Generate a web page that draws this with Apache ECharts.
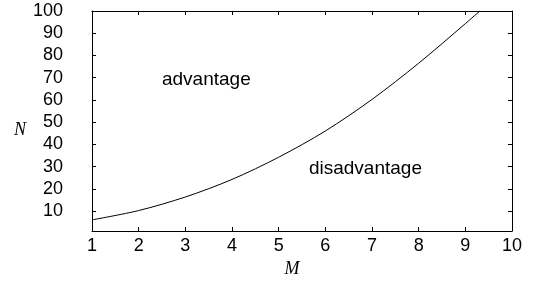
<!DOCTYPE html>
<html><head><meta charset="utf-8">
<script src="https://cdn.jsdelivr.net/npm/echarts@6/dist/echarts.min.js"></script>
<style>html,body{margin:0;padding:0;background:#fff}#c{width:533px;height:286px}</style>
</head><body><div id="c"></div>
<script>
var mValues = [1.0, 2.0, 3.0, 4.0, 5.0, 6.0, 7.0, 8.0, 9.0, 9.31];
var nValues = [6.0, 10.2, 16.3, 24.2, 34.2, 46.0, 60.2, 76.5, 94.3, 100.0];
var xTicks = [1, 2, 3, 4, 5, 6, 7, 8, 9, 10];
var yTicks = [10, 20, 30, 40, 50, 60, 70, 80, 90, 100];
var regionLabels = [
  {text: 'advantage', m: 3.45, n: 69.0},
  {text: 'disadvantage', m: 6.86, n: 29.0}
];

var chart = echarts.init(document.getElementById('c'), null, {renderer: 'canvas'});
var lineStyle = {color: '#000', width: 1};
var labFont = {color: '#000', fontFamily: 'Liberation Sans, Arial, sans-serif', fontSize: 18};
var pts = mValues.map(function (m, i) { return [m, nValues[i]]; });
chart.setOption({
  animation: false,
  grid: {left: 92, right: 21, top: 11, bottom: 55, show: false},
  graphic: [{
    type: 'text', left: 14, top: 121,
    style: {text: 'N', fill: '#000', font: 'italic 18px "Liberation Serif", "Times New Roman", serif'}
  }],
  xAxis: [{
    type: 'value', min: 1, max: 10, interval: 1, position: 'bottom',
    name: 'M', nameLocation: 'middle', nameGap: 26,
    nameTextStyle: {color: '#000', fontFamily: 'Liberation Serif, Times New Roman, serif', fontStyle: 'italic', fontSize: 18, padding: [0, 20, 0, 0]},
    axisLine: {show: true, onZero: false, lineStyle: lineStyle},
    axisTick: {show: true, inside: true, length: 4, lineStyle: lineStyle},
    axisLabel: Object.assign({margin: 6}, labFont),
    splitLine: {show: false}
  }, {
    type: 'value', min: 1, max: 10, interval: 1, position: 'top',
    axisLine: {show: true, onZero: false, lineStyle: lineStyle},
    axisTick: {show: true, inside: true, length: 4, lineStyle: lineStyle},
    axisLabel: {show: false}, splitLine: {show: false}
  }],
  yAxis: [{
    type: 'value', min: 1, max: 100, position: 'left',
    axisLine: {show: true, onZero: false, lineStyle: lineStyle},
    axisTick: {show: true, inside: true, length: 4, lineStyle: lineStyle, customValues: yTicks},
    axisLabel: Object.assign({margin: 29, customValues: yTicks}, labFont),
    splitLine: {show: false}
  }, {
    type: 'value', min: 1, max: 100, position: 'right',
    axisLine: {show: true, onZero: false, lineStyle: lineStyle},
    axisTick: {show: true, inside: true, length: 4, lineStyle: lineStyle, customValues: yTicks},
    axisLabel: {show: false}, splitLine: {show: false}
  }],
  series: [{
    type: 'line', xAxisIndex: 0, yAxisIndex: 0, data: pts, smooth: 0.3,
    showSymbol: false, symbol: 'none', lineStyle: {color: '#000', width: 1}, clip: true
  }, {
    type: 'scatter', xAxisIndex: 0, yAxisIndex: 0, symbolSize: 1, silent: true,
    data: regionLabels.map(function (r) { return {value: [r.m, r.n], name: r.text}; }),
    label: {show: true, position: 'inside', formatter: '{b}', color: '#000', opacity: 1, textBorderWidth: 0,
            fontFamily: 'Liberation Sans, Arial, sans-serif', fontSize: 19},
    itemStyle: {color: '#fff', opacity: 1}
  }]
});
</script></body></html>
